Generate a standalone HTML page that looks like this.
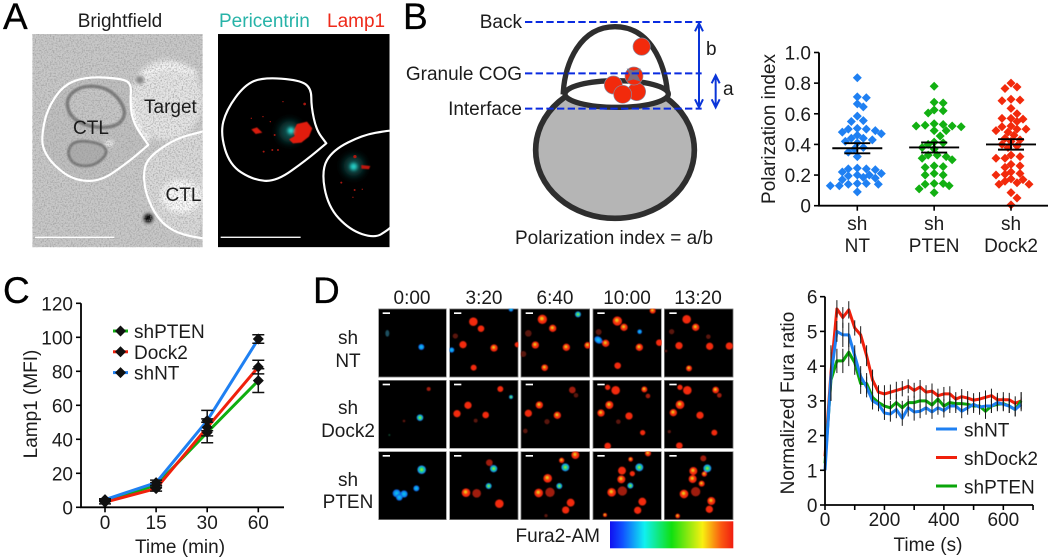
<!DOCTYPE html>
<html lang="en">
<head>
<meta charset="utf-8">
<title>CTL polarization figure</title>
<style>
html,body{margin:0;padding:0;background:#fff;width:1050px;height:559px;overflow:hidden}
svg{display:block}
text{font-family:"Liberation Sans",sans-serif;font-size:19px;fill:#1c1c1c}
.panel{font-size:37px;fill:#000;stroke:#000;stroke-width:.3}
.r{fill:url(#blobR)}.m{fill:url(#blobM)}.b{fill:url(#blobB)}.c{fill:url(#blobC)}.d{fill:#5a120a}.e{fill:#a01c0c}
.fr{fill:#000;stroke:#8c8c8c;stroke-width:4}
.sb{fill:#fff}
.blobs{filter:url(#bl1)}
</style>
</head>
<body>
<svg id="fig" xmlns="http://www.w3.org/2000/svg" width="1050" height="559" viewBox="0 0 1050 559">
<defs>
<filter id="noise" x="0" y="0" width="100%" height="100%"><feTurbulence type="fractalNoise" baseFrequency="0.22" numOctaves="2" seed="4"/><feColorMatrix type="matrix" values="0 0 0 0 0.3  0 0 0 0 0.3  0 0 0 0 0.3  2.5 2.5 0 0 -2.3"/></filter>
<filter id="bl1" x="-10%" y="-10%" width="120%" height="120%"><feGaussianBlur stdDeviation="1.3"/></filter>
<filter id="bl2" x="-20%" y="-20%" width="140%" height="140%"><feGaussianBlur stdDeviation="2.500"/></filter>
<filter id="bl4" x="-60%" y="-60%" width="220%" height="220%"><feGaussianBlur stdDeviation="5"/></filter>
<filter id="bl8" x="-50%" y="-50%" width="200%" height="200%"><feGaussianBlur stdDeviation="8"/></filter>
<filter id="bl14" x="-80%" y="-80%" width="260%" height="260%"><feGaussianBlur stdDeviation="12"/></filter>
<radialGradient id="blobR"><stop offset="0" stop-color="#f52a0a"/><stop offset=".85" stop-color="#f02a0c"/><stop offset="1" stop-color="#c81c08"/></radialGradient>
<radialGradient id="blobM" fx=".42" fy=".38"><stop offset="0" stop-color="#c8d820"/><stop offset=".22" stop-color="#f0c018"/><stop offset=".48" stop-color="#f83c0c"/><stop offset="1" stop-color="#e81c0a"/></radialGradient>
<radialGradient id="blobB"><stop offset="0" stop-color="#10d0e8"/><stop offset=".6" stop-color="#1090f0"/><stop offset="1" stop-color="#1050d8"/></radialGradient>
<radialGradient id="blobC"><stop offset="0" stop-color="#e0e020"/><stop offset=".35" stop-color="#20e060"/><stop offset=".75" stop-color="#10a8e0"/><stop offset="1" stop-color="#2050d0"/></radialGradient>
<linearGradient id="fura"><stop offset="0" stop-color="#1010f0"/><stop offset=".1" stop-color="#1050ff"/><stop offset=".28" stop-color="#10f0f0"/><stop offset=".5" stop-color="#10e010"/><stop offset=".75" stop-color="#f8f010"/><stop offset=".9" stop-color="#fa5a10"/><stop offset="1" stop-color="#f01c10"/></linearGradient>
</defs>

<text class="panel" x="3" y="29">A</text>
<text class="panel" x="403" y="29">B</text>
<text class="panel" x="3" y="303">C</text>
<text class="panel" x="313" y="303">D</text>

<!-- Panel A -->
<text x="120" y="27" text-anchor="middle">Brightfield</text>
<text x="219" y="27" style="fill:#27b3a8">Pericentrin</text>
<text x="327" y="27" style="fill:#ee2a1a">Lamp1</text>

<svg x="32.3" y="34" width="170.4" height="213.3" viewBox="97 102 511 640">
<rect x="97" y="102" width="511" height="640" fill="#c8c8c8"/>
<ellipse cx="500" cy="300" rx="108" ry="122" fill="#e6e6e6" filter="url(#bl8)"/>
<path d="M425,235 Q500,170 590,225" fill="none" stroke="#fafafa" stroke-width="16" filter="url(#bl8)"/>
<path d="M395,290 Q395,370 450,420" fill="none" stroke="#f8f8f8" stroke-width="14" filter="url(#bl4)"/>
<circle cx="420" cy="240" r="12" fill="#808080" filter="url(#bl4)"/>
<path data-smooth="125,410 140,330 190,255 260,230 360,235 395,250 390,310 400,370 445,435 445,435 380,490 300,545 220,540 160,495 130,450" fill="#c0c0c0"/>
<path data-smooth="200,290 250,255 330,265 380,330 360,375 300,385 240,370 205,340" fill="#c6c6c6" stroke="#787878" stroke-width="11" filter="url(#bl2)"/>
<path data-smooth="200,455 225,420 305,430 325,460 280,500 220,495" fill="#aeaeae" stroke="#767676" stroke-width="9" filter="url(#bl2)"/>
<ellipse cx="328" cy="430" rx="14" ry="10" fill="#e8e8e8" filter="url(#bl4)"/>
<path data-smooth="605,395 530,415 460,460 430,500 435,580 475,660 530,700 615,716 615,395" fill="#dadada"/>
<ellipse cx="545" cy="590" rx="62" ry="50" fill="#fbfbfb" filter="url(#bl8)"/>
<circle cx="445" cy="655" r="14" fill="#000" filter="url(#bl4)"/>
<rect x="97" y="102" width="511" height="640" filter="url(#noise)" opacity=".6"/>
<path data-smooth="125,410 140,330 190,255 260,230 360,235 395,250 390,310 400,370 445,435 445,435 380,490 300,545 220,540 160,495 130,450" fill="none" stroke="#fff" stroke-width="6.5" stroke-linejoin="round"/>
<path data-smooth-open="620,392 605,395 530,415 460,460 430,500 435,580 475,660 530,700 605,715 620,716" fill="none" stroke="#fff" stroke-width="6.5" stroke-linejoin="round"/>
<rect x="105" y="710" width="238" height="4" fill="#fff"/>
</svg>
<text x="144" y="113">Target</text>
<text x="73" y="134">CTL</text>
<text x="165.500" y="201">CTL</text>

<svg x="218" y="34" width="171.600" height="213.300" viewBox="655 102 515 640">
<rect x="655" y="102" width="515" height="640" fill="#000"/>
<circle cx="870" cy="395" r="32" fill="#0a4c4a" filter="url(#bl14)"/>
<circle cx="1062" cy="498" r="30" fill="#0a4c4a" filter="url(#bl14)"/>
<path d="M892,372 L922,365 L938,385 L928,410 L905,428 L880,430 L868,418 L885,408 L880,395Z" fill="#e01c10" filter="url(#bl1)"/>
<path d="M755,388 L772,382 L788,398 L768,402Z" fill="#d81c10" filter="url(#bl1)"/>
<circle cx="874" cy="392" r="10" fill="#30e0d8" filter="url(#bl4)"/>
<circle cx="1062" cy="500" r="11" fill="#28d0c8" filter="url(#bl4)"/>
<path d="M1085,495 L1112,498 L1108,508 L1085,506Z" fill="#c01810" filter="url(#bl1)"/>
<g fill="#a81810">
<circle cx="915" cy="312" r="4"/><circle cx="850" cy="305" r="2"/><circle cx="790" cy="350" r="2"/><circle cx="755" cy="355" r="2"/><circle cx="812" cy="365" r="2"/><circle cx="825" cy="405" r="3"/><circle cx="835" cy="450" r="3"/><circle cx="818" cy="450" r="3"/><circle cx="792" cy="455" r="3"/><circle cx="1066" cy="470" r="5"/><circle cx="1025" cy="548" r="3"/><circle cx="1065" cy="570" r="3"/><circle cx="1088" cy="568" r="2"/><circle cx="1060" cy="592" r="2"/>
</g>
<path data-smooth="662,400 680,330 735,255 790,232 900,240 935,265 935,320 950,390 980,430 980,430 920,480 830,545 760,540 690,495" fill="none" stroke="#fff" stroke-width="6.5" stroke-linejoin="round"/>
<path data-smooth-open="1175,392 1165,392 1090,405 1000,450 965,510 985,620 1050,690 1125,715 1165,690 1175,680" fill="none" stroke="#fff" stroke-width="6.5" stroke-linejoin="round"/>
<rect x="663" y="710" width="240" height="4" fill="#fff"/>
</svg>

<!-- Panel B schematic -->
<g transform="translate(400,0) scale(.33333)">
<ellipse cx="645" cy="450" rx="238" ry="205" fill="#b5b5b5" stroke="#2e2e2e" stroke-width="17"/>
<path d="M490,275 C495,190 540,80 645,80 C750,80 795,190 802,275Z" fill="#fff" stroke="#2e2e2e" stroke-width="16"/>
<ellipse cx="650" cy="282" rx="155" ry="40" fill="#fff" stroke="#2e2e2e" stroke-width="16"/>
<g fill="#f22a0c" stroke="#8a8aa0" stroke-width="2">
<circle cx="725" cy="140" r="26"/>
<circle cx="640" cy="255" r="27"/>
<circle cx="710" cy="275" r="27"/>
<circle cx="668" cy="283" r="27"/>
<circle cx="702" cy="228" r="27"/>
</g>
<path d="M680,205 L700,212 L722,205 L712,225 L722,245 L700,238 L680,245 L690,225Z" fill="#6a7a90" opacity=".85"/>
<g stroke="#0a2be0" stroke-width="6" stroke-dasharray="22 10" fill="none">
<line x1="375" y1="66" x2="905" y2="66"/>
<line x1="375" y1="220" x2="905" y2="220"/>
<line x1="375" y1="326" x2="905" y2="326"/>
</g>
<g stroke="#0a35d8" stroke-width="6" fill="none">
<path d="M897,70 V322 M885,94 L897,70 L909,94 M885,298 L897,322 L909,298"/>
<path d="M947,226 V322 M935,250 L947,226 L959,250 M935,298 L947,322 L959,298"/>
</g>
</g>
<text x="522" y="28" text-anchor="end">Back</text>
<text x="522" y="80" text-anchor="end">Granule COG</text>
<text x="522" y="115" text-anchor="end">Interface</text>
<text x="706" y="55">b</text>
<text x="723" y="95">a</text>
<text x="515" y="244">Polarization index = a/b</text>

<g id="swarmChart"></g>
<g id="lampChart"></g>
<g id="furaChart"></g>

<!-- Panel D timelapse -->
<g>
<text x="412" y="304" text-anchor="middle">0:00</text>
<text x="484" y="304" text-anchor="middle">3:20</text>
<text x="555" y="304" text-anchor="middle">6:40</text>
<text x="627" y="304" text-anchor="middle">10:00</text>
<text x="698" y="304" text-anchor="middle">13:20</text>
</g>
<g text-anchor="middle">
<text x="348" y="344">sh</text>
<text x="348" y="367">NT</text>
<text x="348" y="414">sh</text>
<text x="348" y="437">Dock2</text>
<text x="348" y="486">sh</text>
<text x="348" y="508">PTEN</text>
</g>
<g transform="translate(310,270) scale(.33333)">
<g>
<svg x="205" y="116" width="205" height="206" viewBox="205 116 205 206"><rect class="fr" x="205" y="116" width="205" height="206"/><rect class="sb" x="218" y="127" width="22" height="5"/><g class="blobs"><ellipse cx="232" cy="190" rx="6" ry="10" fill="#1c5060"/><circle class="b" cx="334" cy="231" r="9"/></g></svg>
<svg x="418" y="116" width="207" height="206" viewBox="418 116 207 206"><rect class="fr" x="418" y="116" width="207" height="206"/><rect class="sb" x="432" y="127" width="22" height="5"/><g class="blobs"><circle class="r" cx="490" cy="155" r="13"/><circle class="r" cx="513" cy="176" r="10"/><circle class="d" cx="436" cy="198" r="8"/><circle class="r" cx="459" cy="224" r="11"/><circle class="m" cx="552" cy="234" r="11"/><circle class="b" cx="425" cy="240" r="8"/><circle class="r" cx="491" cy="293" r="9"/><circle class="b" cx="603" cy="118" r="7"/><circle class="r" cx="622" cy="224" r="8"/></g></svg>
<svg x="632" y="116" width="208" height="206" viewBox="632 116 208 206"><rect class="fr" x="632" y="116" width="208" height="206"/><rect class="sb" x="647" y="127" width="22" height="5"/><g class="blobs"><circle class="m" cx="697" cy="148" r="14"/><circle class="m" cx="728" cy="175" r="11"/><circle class="c" cx="804" cy="133" r="9"/><circle class="d" cx="655" cy="190" r="10"/><circle class="m" cx="676" cy="225" r="11"/><circle class="m" cx="769" cy="232" r="11"/><circle class="m" cx="833" cy="226" r="10"/><circle class="d" cx="640" cy="252" r="9"/><circle class="m" cx="704" cy="293" r="10"/></g></svg>
<svg x="848" y="116" width="207" height="206" viewBox="848 116 207 206"><rect class="fr" x="848" y="116" width="207" height="206"/><rect class="sb" x="862" y="127" width="22" height="5"/><g class="blobs"><circle class="m" cx="922" cy="153" r="14"/><circle class="m" cx="942" cy="172" r="11"/><circle class="m" cx="1028" cy="122" r="9"/><circle class="b" cx="989" cy="185" r="7"/><circle class="d" cx="866" cy="186" r="9"/><ellipse class="b" cx="865" cy="210" rx="13" ry="10" transform="rotate(35 865 210)"/><circle class="m" cx="887" cy="220" r="11"/><circle class="m" cx="988" cy="232" r="11"/><circle class="r" cx="1048" cy="218" r="10"/><circle class="r" cx="923" cy="287" r="10"/></g></svg>
<svg x="1062" y="116" width="208" height="206" viewBox="1062 116 208 206"><rect class="fr" x="1062" y="116" width="208" height="206"/><rect class="sb" x="1078" y="127" width="22" height="5"/><g class="blobs"><circle class="r" cx="1130" cy="148" r="13"/><circle class="m" cx="1157" cy="172" r="11"/><circle class="d" cx="1085" cy="185" r="8"/><circle class="d" cx="1195" cy="200" r="7"/><circle class="r" cx="1107" cy="227" r="11"/><circle class="r" cx="1199" cy="229" r="11"/><circle class="r" cx="1258" cy="228" r="11"/><circle class="m" cx="1137" cy="295" r="9"/><circle class="d" cx="1068" cy="243" r="4"/></g></svg>
</g>
<g>
<svg x="205" y="330" width="205" height="206" viewBox="205 330 205 206"><rect class="fr" x="205" y="330" width="205" height="206"/><rect class="sb" x="218" y="341" width="22" height="5"/><g class="blobs"><circle class="e" cx="356" cy="357" r="6"/><circle class="c" cx="330" cy="443" r="10"/><circle class="d" cx="282" cy="453" r="4"/><circle cx="238" cy="495" r="3" fill="#104a30"/></g></svg>
<svg x="418" y="330" width="207" height="206" viewBox="418 330 207 206"><rect class="fr" x="418" y="330" width="207" height="206"/><rect class="sb" x="432" y="341" width="22" height="5"/><g class="blobs"><circle class="r" cx="571" cy="357" r="9"/><circle class="c" cx="603" cy="381" r="6"/><circle class="r" cx="474" cy="406" r="11"/><circle class="r" cx="441" cy="431" r="11"/><circle class="r" cx="527" cy="435" r="10"/><circle class="d" cx="497" cy="452" r="6"/></g></svg>
<svg x="632" y="330" width="208" height="206" viewBox="632 330 208 206"><rect class="fr" x="632" y="330" width="208" height="206"/><rect class="sb" x="647" y="341" width="22" height="5"/><g class="blobs"><circle class="e" cx="787" cy="360" r="10"/><circle class="d" cx="798" cy="376" r="7"/><circle class="m" cx="688" cy="405" r="11"/><circle class="r" cx="655" cy="430" r="11"/><circle class="m" cx="742" cy="436" r="11"/><circle class="d" cx="711" cy="455" r="8"/><circle class="d" cx="646" cy="483" r="7"/></g></svg>
<svg x="848" y="330" width="207" height="206" viewBox="848 330 207 206"><rect class="fr" x="848" y="330" width="207" height="206"/><rect class="sb" x="862" y="341" width="22" height="5"/><g class="blobs"><circle class="r" cx="893" cy="352" r="8"/><circle class="r" cx="917" cy="361" r="13"/><circle class="m" cx="1003" cy="358" r="9"/><circle class="e" cx="1014" cy="378" r="7"/><circle class="m" cx="898" cy="405" r="12"/><circle class="m" cx="873" cy="429" r="11"/><circle class="r" cx="957" cy="438" r="11"/><circle class="d" cx="925" cy="455" r="7"/><circle class="r" cx="998" cy="488" r="8"/><circle class="r" cx="893" cy="528" r="10"/></g></svg>
<svg x="1062" y="330" width="208" height="206" viewBox="1062 330 208 206"><rect class="fr" x="1062" y="330" width="208" height="206"/><rect class="sb" x="1078" y="341" width="22" height="5"/><g class="blobs"><circle class="r" cx="1110" cy="352" r="8"/><circle class="r" cx="1132" cy="361" r="13"/><circle class="m" cx="1217" cy="360" r="10"/><circle class="e" cx="1228" cy="376" r="7"/><circle class="m" cx="1110" cy="404" r="13"/><circle class="m" cx="1090" cy="428" r="11"/><circle class="r" cx="1170" cy="436" r="11"/><circle class="r" cx="1213" cy="488" r="9"/><circle class="r" cx="1108" cy="527" r="10"/><circle class="d" cx="1078" cy="485" r="5"/></g></svg>
</g>
<g>
<svg x="205" y="544" width="205" height="206" viewBox="205 544 205 206"><rect class="fr" x="205" y="544" width="205" height="206"/><rect class="sb" x="218" y="555" width="22" height="5"/><g class="blobs"><circle class="c" cx="335" cy="599" r="13"/><circle class="b" cx="260" cy="670" r="12"/><circle class="b" cx="282" cy="672" r="11"/><circle class="b" cx="268" cy="682" r="10"/><circle class="b" cx="319" cy="655" r="9"/></g></svg>
<svg x="418" y="544" width="207" height="206" viewBox="418 544 207 206"><rect class="fr" x="418" y="544" width="207" height="206"/><rect class="sb" x="432" y="555" width="22" height="5"/><g class="blobs"><circle class="e" cx="538" cy="578" r="10"/><circle class="c" cx="551" cy="596" r="11"/><circle class="c" cx="536" cy="648" r="9"/><circle class="m" cx="468" cy="668" r="13"/><circle class="e" cx="500" cy="670" r="13"/><circle class="r" cx="568" cy="701" r="13"/></g></svg>
<svg x="632" y="544" width="208" height="206" viewBox="632 544 208 206"><rect class="fr" x="632" y="544" width="208" height="206"/><rect class="sb" x="647" y="555" width="22" height="5"/><g class="blobs"><circle class="m" cx="796" cy="555" r="12"/><circle class="m" cx="755" cy="571" r="8"/><circle class="c" cx="766" cy="592" r="12"/><circle class="m" cx="713" cy="625" r="13"/><circle class="c" cx="748" cy="648" r="9"/><circle class="m" cx="686" cy="669" r="13"/><circle class="e" cx="720" cy="667" r="14"/><circle class="r" cx="782" cy="698" r="12"/><circle class="r" cx="767" cy="720" r="11"/><circle class="d" cx="708" cy="737" r="5"/></g></svg>
<svg x="848" y="544" width="207" height="206" viewBox="848 544 207 206"><rect class="fr" x="848" y="544" width="207" height="206"/><rect class="sb" x="862" y="555" width="22" height="5"/><g class="blobs"><circle class="m" cx="1014" cy="550" r="9"/><circle class="m" cx="962" cy="568" r="7"/><circle class="c" cx="988" cy="592" r="12"/><circle class="r" cx="936" cy="602" r="12"/><circle class="r" cx="967" cy="611" r="8"/><circle class="m" cx="934" cy="628" r="12"/><circle class="c" cx="961" cy="647" r="9"/><circle class="m" cx="905" cy="667" r="13"/><circle class="e" cx="937" cy="663" r="14"/><circle class="r" cx="997" cy="695" r="12"/><circle class="r" cx="983" cy="721" r="11"/><circle class="m" cx="885" cy="735" r="6"/></g></svg>
<svg x="1062" y="544" width="208" height="206" viewBox="1062 544 208 206"><rect class="fr" x="1062" y="544" width="208" height="206"/><rect class="sb" x="1078" y="555" width="22" height="5"/><g class="blobs"><circle class="e" cx="1180" cy="565" r="9"/><circle class="c" cx="1192" cy="595" r="12"/><circle class="m" cx="1150" cy="603" r="12"/><circle class="m" cx="1183" cy="612" r="8"/><circle class="m" cx="1148" cy="627" r="12"/><circle class="m" cx="1175" cy="641" r="9"/><circle class="m" cx="1122" cy="672" r="13"/><circle class="e" cx="1157" cy="665" r="14"/><circle class="m" cx="1204" cy="693" r="12"/><circle class="r" cx="1198" cy="718" r="11"/><circle class="m" cx="1103" cy="738" r="7"/></g></svg>
</g>
</g>
<text x="600" y="542" text-anchor="end">Fura2-AM</text>
<rect x="610" y="521.300" width="123.300" height="27" fill="url(#fura)"/>

<script>
// ---------- Swarm chart data ----------
const swarmGroups = ['NT', 'PTEN', 'Dock2'];
const swarmTicks = [0, 0.2, 0.4, 0.6, 0.8, 1.0];
const swarmTickLabels = ['0', '0.2', '0.4', '0.6', '0.8', '1.0'];
const valuesNT = [.835,.71,.705,.665,.645,.585,.555,.55,.505,.5,.5,.49,.48,.47,.46,.44,.44,.43,.42,.41,.38,.37,.35,.32,.245,.24,.24,.235,.22,.21,.2,.2,.195,.185,.18,.17,.145,.145,.14,.14,.13,.13,.09];
const valuesPTEN = [.78,.675,.67,.625,.62,.605,.535,.53,.525,.52,.52,.515,.49,.49,.455,.415,.41,.4,.38,.37,.33,.33,.32,.31,.3,.26,.255,.25,.21,.2,.2,.145,.145,.14,.13,.11,.085];
const valuesDock2 = [.8,.775,.765,.695,.69,.685,.635,.6,.57,.57,.565,.55,.52,.515,.5,.5,.49,.48,.46,.44,.43,.42,.4,.39,.38,.33,.32,.31,.31,.27,.26,.25,.22,.21,.205,.2,.175,.17,.16,.15,.14,.14,.085,.05,.005];
const swarmMeans = [.375, .38, .4];
const swarmSEM = [.033, .033, .034];

// ---------- Lamp1 chart data ----------
const lampTimes = ['0', '15', '30', '60'];
const lampTicks = [0, 20, 40, 60, 80, 100, 120];
const lampPTEN = [4, 13, 44, 74.5];
const lampDock2 = [3, 11, 47, 82.5];
const lampNT = [4.5, 14.5, 51, 99];
const lampErrPTEN = [.5, 1.5, 6, 7];
const lampErrDock2 = [1, 1.5, 5, 4];
const lampErrNT = [.5, 1.5, 6, 2.5];

// ---------- Fura chart data ----------
const furaTimes = [0,20,40,60,80,100,120,140,160,180,200,220,240,260,280,300,320,340,360,380,400,420,440,460,480,500,520,540,560,580,600,620,640,660];
const furaYTicks = [0,1,2,3,4,5,6];
const furaXTicks = [0,100,200,300,400,500,600,700];
const furaXLabels = ['0','','200','','400','','600',''];
const furaRed = [1.4,3.8,5.65,5.4,5.62,5.1,4.9,4.3,3.6,3.25,3.2,3.25,3.3,3.35,3.42,3.3,3.4,3.25,3.28,3.15,3.2,3.2,3.05,3.12,3.08,3.02,3.05,3.1,3.15,3.03,3.03,3.03,2.93,3];
const furaBlue = [1,3.7,5,4.9,4.9,4.3,3.7,3.4,3,2.9,2.65,2.62,2.75,2.5,2.8,2.68,2.7,2.8,2.68,2.8,2.72,2.85,2.85,2.7,2.8,2.9,2.82,2.85,2.85,2.95,2.9,2.85,2.75,2.9];
const furaGreen = [1.2,3.6,4.15,4.15,4.4,4.1,3.5,3.5,3.1,2.95,2.85,2.8,2.95,2.8,2.95,2.95,3,3,2.88,3.05,2.85,2.95,2.92,2.92,2.9,2.85,2.85,2.7,2.85,2.9,2.92,2.85,2.75,3];
const furaErrRed = [0,.8,.25,.3,.25,.22,.25,.3,.3,.2,.25,.22,.25,.22,.2,.22,.2,.2,.22,.2,.2,.22,.2,.22,.2,.2,.2,.2,.2,.2,.22,.2,.2,.25];
const furaErrBlue = [0,.7,.3,.35,.35,.3,.3,.3,.25,.2,.2,.22,.25,.22,.25,.25,.2,.2,.2,.2,.2,.2,.2,.2,.2,.2,.22,.2,.2,.2,.2,.2,.2,.2];
const furaErrGreen = [0,.6,.35,.35,.4,.35,.3,.3,.25,.22,.2,.2,.25,.2,.2,.2,.2,.2,.2,.2,.2,.2,.2,.2,.2,.2,.2,.22,.2,.2,.2,.2,.2,.25];

const NS = 'http://www.w3.org/2000/svg';
const colBlue = '#1f80f2', colRed = '#f0200c', colGreen = '#0fae10';

function mk(parent, tag, attrs, txt) {
  const e = document.createElementNS(NS, tag);
  for (const k in attrs) e.setAttribute(k, attrs[k]);
  if (txt !== undefined) e.textContent = txt;
  parent.appendChild(e);
  return e;
}
function diamondPath(x, y, r) {
  return 'M' + x + ',' + (y - r) + 'L' + (x + r) + ',' + y + 'L' + x + ',' + (y + r) + 'L' + (x - r) + ',' + y + 'Z';
}
function linePath(xs, ys) {
  return xs.map((x, i) => (i ? 'L' : 'M') + x.toFixed(2) + ',' + ys[i].toFixed(2)).join('');
}

// Rounds the hand-traced cell outlines in the brightfield/fluorescence images
function smoothPath(str, closed) {
  const p = str.trim().split(/\s+/).map(s => s.split(',').map(Number));
  const mid = (a, b) => [(a[0] + b[0]) / 2, (a[1] + b[1]) / 2];
  let d;
  if (closed) {
    const s = mid(p[p.length - 1], p[0]);
    d = 'M' + s[0] + ',' + s[1];
    p.forEach((pt, i) => {
      const m = mid(pt, p[(i + 1) % p.length]);
      d += 'Q' + pt[0] + ',' + pt[1] + ' ' + m[0] + ',' + m[1];
    });
    return d + 'Z';
  }
  d = 'M' + p[0][0] + ',' + p[0][1];
  for (let i = 1; i < p.length - 1; i++) {
    const m = mid(p[i], p[i + 1]);
    d += 'Q' + p[i][0] + ',' + p[i][1] + ' ' + m[0] + ',' + m[1];
  }
  return d + 'L' + p[p.length - 1][0] + ',' + p[p.length - 1][1];
}
document.querySelectorAll('[data-smooth]').forEach(e => e.setAttribute('d', smoothPath(e.getAttribute('data-smooth'), true)));
document.querySelectorAll('[data-smooth-open]').forEach(e => e.setAttribute('d', smoothPath(e.getAttribute('data-smooth-open'), false)));

// ---------- Swarm chart ----------
(function () {
  const g = document.getElementById('swarmChart');
  const y = v => 205.7 - v * 153.2;
  const x = i => 857.3 + i * 76.85;
  const groupColors = [colBlue, '#12b012', '#f22a0c'];
  const allVals = [valuesNT, valuesPTEN, valuesDock2];
  allVals.forEach((vals, gi) => {
    const placed = [];
    vals.slice().sort((a, b) => b - a).forEach(v => {
      const py = y(v);
      let off = 0;
      for (let k = 0; k < 60; k++) {
        const c = k === 0 ? 0 : (k % 2 ? 1 : -1) * Math.ceil(k / 2) * 3;
        if (placed.every(p => (p[0] - c) * (p[0] - c) + (p[1] - py) * (p[1] - py) >= 40)) { off = c; break; }
      }
      placed.push([off, py]);
      const m = mk(g, 'path', { d: diamondPath(x(gi) + off, py, 4.5), fill: groupColors[gi] });
      
      
    });
    const ym = y(swarmMeans[gi]), yh = y(swarmMeans[gi] + swarmSEM[gi]), yl = y(swarmMeans[gi] - swarmSEM[gi]);
    const bar = mk(g, 'path', {
      d: 'M' + (x(gi) - 25) + ',' + ym + 'H' + (x(gi) + 25) +
         'M' + (x(gi) - 13) + ',' + yh + 'H' + (x(gi) + 13) +
         'M' + (x(gi) - 13) + ',' + yl + 'H' + (x(gi) + 13) +
         'M' + x(gi) + ',' + yh + 'V' + yl,
      stroke: '#000', 'stroke-width': 1.9, fill: 'none'
    });
    
    
  });
  const axis = mk(g, 'path', { d: 'M819,' + y(1) + 'V' + y(0) + 'H1048', stroke: '#000', 'stroke-width': 1.9, fill: 'none' });
  
  
  swarmTicks.forEach((t, i) => {
    const tk = mk(g, 'line', { x1: 814, x2: 819, y1: y(t), y2: y(t), stroke: '#000', 'stroke-width': 1.6 });
    
    
    const lb = mk(g, 'text', { x: 811, y: y(t) + 7, 'text-anchor': 'end' }, swarmTickLabels[i]);
    
    
  });
  swarmGroups.forEach((n, i) => {
    const tk = mk(g, 'line', { x1: x(i), x2: x(i), y1: y(0), y2: y(0) + 5, stroke: '#000', 'stroke-width': 1.6 });
    
    
    const a = mk(g, 'text', { x: x(i), y: 230, 'text-anchor': 'middle' }, 'sh');
    
    
    const b = mk(g, 'text', { x: x(i), y: 252, 'text-anchor': 'middle' }, n);
    
    
  });
  const title = mk(g, 'text', { transform: 'translate(775,129) rotate(-90)', 'text-anchor': 'middle' }, 'Polarization index');
  
  
})();

// ---------- Lamp1 chart ----------
(function () {
  const g = document.getElementById('lampChart');
  const y = v => 507.3 - v * 1.7;
  const x = i => 105 + i * 51.1;
  const series = [
    { name: 'shPTEN', vals: lampPTEN, errs: lampErrPTEN, col: colGreen },
    { name: 'Dock2', vals: lampDock2, errs: lampErrDock2, col: colRed },
    { name: 'shNT', vals: lampNT, errs: lampErrNT, col: colBlue }
  ];
  series.forEach(s => {
    const l = mk(g, 'path', { d: linePath(s.vals.map((v, i) => x(i)), s.vals.map(y)), stroke: s.col, 'stroke-width': 3, fill: 'none', 'stroke-linejoin': 'round' });
    
    
  });
  series.forEach(s => {
    s.vals.forEach((v, i) => {
      const px = x(i), hi = y(v + s.errs[i]), lo = y(v - s.errs[i]);
      const e = mk(g, 'path', { d: 'M' + (px - 6) + ',' + hi + 'H' + (px + 6) + 'M' + (px - 6) + ',' + lo + 'H' + (px + 6) + 'M' + px + ',' + hi + 'V' + lo, stroke: '#111', 'stroke-width': 1.5, fill: 'none' });
      
      
      const d = mk(g, 'path', { d: diamondPath(px, y(v), 5.5), fill: '#111' });
      
      
    });
  });
  const axis = mk(g, 'path', { d: 'M81,' + y(120) + 'V' + y(0) + 'H284', stroke: '#000', 'stroke-width': 1.8, fill: 'none' });
  
  
  lampTicks.forEach(t => {
    const tk = mk(g, 'line', { x1: 76, x2: 81, y1: y(t), y2: y(t), stroke: '#000', 'stroke-width': 1.6 });
    
    
    const lb = mk(g, 'text', { x: 73, y: y(t) + 7, 'text-anchor': 'end' }, String(t));
    
    
  });
  lampTimes.forEach((t, i) => {
    const tk = mk(g, 'line', { x1: x(i), x2: x(i), y1: y(0), y2: y(0) + 5, stroke: '#000', 'stroke-width': 1.6 });
    
    
    const lb = mk(g, 'text', { x: x(i), y: 529, 'text-anchor': 'middle' }, t);
    
    
  });
  const xt = mk(g, 'text', { x: 180, y: 553, 'text-anchor': 'middle' }, 'Time (min)');
  
  
  const yt = mk(g, 'text', { transform: 'translate(37,404) rotate(-90)', 'text-anchor': 'middle' }, 'Lamp1 (MFI)');
  
  
  series.forEach((s, i) => {
    const ly = 331 + i * 20.8;
    const l = mk(g, 'line', { x1: 113, x2: 128, y1: ly, y2: ly, stroke: s.col, 'stroke-width': 3 });
    
    
    const d = mk(g, 'path', { d: diamondPath(120.5, ly, 5.5), fill: '#111' });
    
    
    const t = mk(g, 'text', { x: 134, y: ly + 7 }, s.name);
    
    
  });
})();

// ---------- Fura chart ----------
(function () {
  const g = document.getElementById('furaChart');
  const y = v => 505 - v * 34.72;
  const x = t => 825 + t * 0.2972;
  const series = [
    { name: 'shNT', vals: furaBlue, errs: furaErrBlue, col: colBlue },
    { name: 'shDock2', vals: furaRed, errs: furaErrRed, col: colRed },
    { name: 'shPTEN', vals: furaGreen, errs: furaErrGreen, col: '#0aa50a' }
  ];
  const drawOrder = [series[1], series[2], series[0]];
  drawOrder.forEach(s => {
    const l = mk(g, 'path', { d: linePath(furaTimes.map(x), s.vals.map(y)), stroke: s.col, 'stroke-width': 3, fill: 'none', 'stroke-linejoin': 'round' });
    
    
  });
  drawOrder.forEach(s => {
    furaTimes.forEach((t, i) => {
      if (!s.errs[i]) return;
      const b = mk(g, 'line', { x1: x(t), x2: x(t), y1: y(s.vals[i] + s.errs[i]), y2: y(s.vals[i] - s.errs[i]), stroke: '#1a1a1a', 'stroke-width': 1 });
      
      
    });
  });
  const axis = mk(g, 'path', { d: 'M825,' + y(6) + 'V' + y(0) + 'H' + x(700), stroke: '#000', 'stroke-width': 1.8, fill: 'none' });
  
  
  furaYTicks.forEach(t => {
    const tk = mk(g, 'line', { x1: 820, x2: 825, y1: y(t), y2: y(t), stroke: '#000', 'stroke-width': 1.6 });
    
    
    const lb = mk(g, 'text', { x: 817.5, y: y(t) + 7, 'text-anchor': 'end' }, String(t));
    
    
  });
  furaXTicks.forEach((t, i) => {
    const tk = mk(g, 'line', { x1: x(t), x2: x(t), y1: y(0), y2: y(0) + 5, stroke: '#000', 'stroke-width': 1.6 });
    
    
    if (furaXLabels[i]) {
      const lb = mk(g, 'text', { x: x(t), y: 526, 'text-anchor': 'middle' }, furaXLabels[i]);
      
      
    }
  });
  const xt = mk(g, 'text', { x: 928, y: 551, 'text-anchor': 'middle' }, 'Time (s)');
  
  
  const yt = mk(g, 'text', { transform: 'translate(794,403) rotate(-90)', 'text-anchor': 'middle' }, 'Normalized Fura ratio');
  
  
  series.forEach((s, i) => {
    const ly = 429 + i * 28.5;
    const l = mk(g, 'line', { x1: 936, x2: 957, y1: ly, y2: ly, stroke: s.col, 'stroke-width': 3 });
    
    
    const t = mk(g, 'text', { x: 964, y: ly + 7.500 }, s.name);
    
    
  });
})();
</script>
</svg>
</body>
</html>
